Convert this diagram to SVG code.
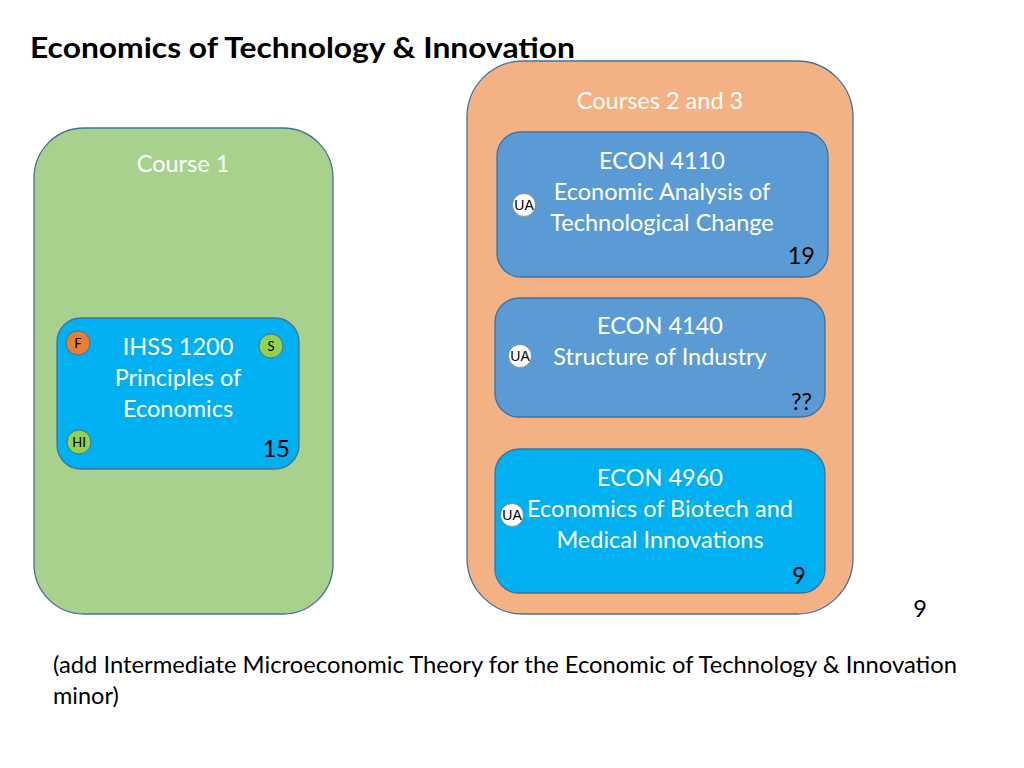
<svg xmlns="http://www.w3.org/2000/svg" width="1024" height="768" viewBox="0 0 1024 768">
<style>
text{font-family:Lato,"Liberation Sans",sans-serif}
.w{fill:#ffffff;font-size:23.5px;text-anchor:middle}
.k{fill:#000000;font-size:23.5px}
.box{stroke:#41719c;stroke-width:1.3}
.badge{stroke:#41719c;stroke-width:1}
.bt{font-size:13px;fill:#000;text-anchor:middle}
.ua{font-family:"Liberation Sans",Arial,sans-serif;font-size:14px;fill:#000;text-anchor:middle}
.uac{fill:#ffffff;stroke:#7f7f7f;stroke-width:0.8}
</style>
<rect width="1024" height="768" fill="#ffffff"/>
<text x="30" y="58" font-size="28" font-weight="bold" fill="#000" textLength="545" lengthAdjust="spacingAndGlyphs">Economics of Technology &amp; Innovation</text>

<g id="course1">
<rect class="box" x="34" y="128" width="299" height="486" rx="50" fill="#a9d18e"/>
<text class="w" x="183" y="172">Course 1</text>
</g>

<g id="ihss1200">
<rect class="box" x="57" y="318" width="242" height="151" rx="24" fill="#00b0f0"/>
<text class="w" x="178" y="355">IHSS 1200</text>
<text class="w" x="178" y="386">Principles of</text>
<text class="w" x="178" y="417">Economics</text>
<text class="k" x="290" y="457" text-anchor="end">15</text>
<circle class="badge" cx="78" cy="343" r="12" fill="#ed7d31"/>
<text class="bt" x="78" y="348">F</text>
<circle class="badge" cx="271" cy="346" r="12" fill="#92d050"/>
<text class="bt" x="271" y="351">S</text>
<circle class="badge" cx="79" cy="442" r="12" fill="#92d050"/>
<text class="bt" x="79" y="447">HI</text>
</g>

<g id="courses23">
<rect class="box" x="467" y="61" width="386" height="553" rx="56" fill="#f4b183"/>
<text class="w" x="660" y="109">Courses 2 and 3</text>
</g>

<g id="econ4110">
<rect class="box" x="497" y="132" width="331" height="145" rx="24" fill="#5b9bd5"/>
<text class="w" x="662" y="169">ECON 4110</text>
<text class="w" x="662" y="200">Economic Analysis of</text>
<text class="w" x="662" y="231">Technological Change</text>
<text class="k" x="815" y="264" text-anchor="end">19</text>
<circle class="uac" cx="524" cy="205" r="11.5"/>
<text class="ua" x="524" y="210">UA</text>
</g>

<g id="econ4140">
<rect class="box" x="495" y="298" width="330" height="119" rx="24" fill="#5b9bd5"/>
<text class="w" x="660" y="334">ECON 4140</text>
<text class="w" x="660" y="365">Structure of Industry</text>
<text class="k" x="812" y="410" text-anchor="end">??</text>
<circle class="uac" cx="520" cy="356" r="11.5"/>
<text class="ua" x="520" y="361">UA</text>
</g>

<g id="econ4960">
<rect class="box" x="495" y="449" width="330" height="144" rx="24" fill="#00b0f0"/>
<text class="w" x="660" y="486">ECON 4960</text>
<text class="w" x="660" y="517">Economics of Biotech and</text>
<text class="w" x="660" y="548">Medical Innovations</text>
<text class="k" x="806" y="584" text-anchor="end">9</text>
<circle class="uac" cx="512" cy="515" r="11.5"/>
<text class="ua" x="512" y="520">UA</text>
</g>

<g id="connectors"></g>

<text class="k" x="927" y="617" text-anchor="end">9</text>
<text class="k" x="53" y="673" textLength="904" lengthAdjust="spacingAndGlyphs">(add Intermediate Microeconomic Theory for the Economic of Technology &amp; Innovation</text>
<text class="k" x="53" y="704">minor)</text>
</svg>
